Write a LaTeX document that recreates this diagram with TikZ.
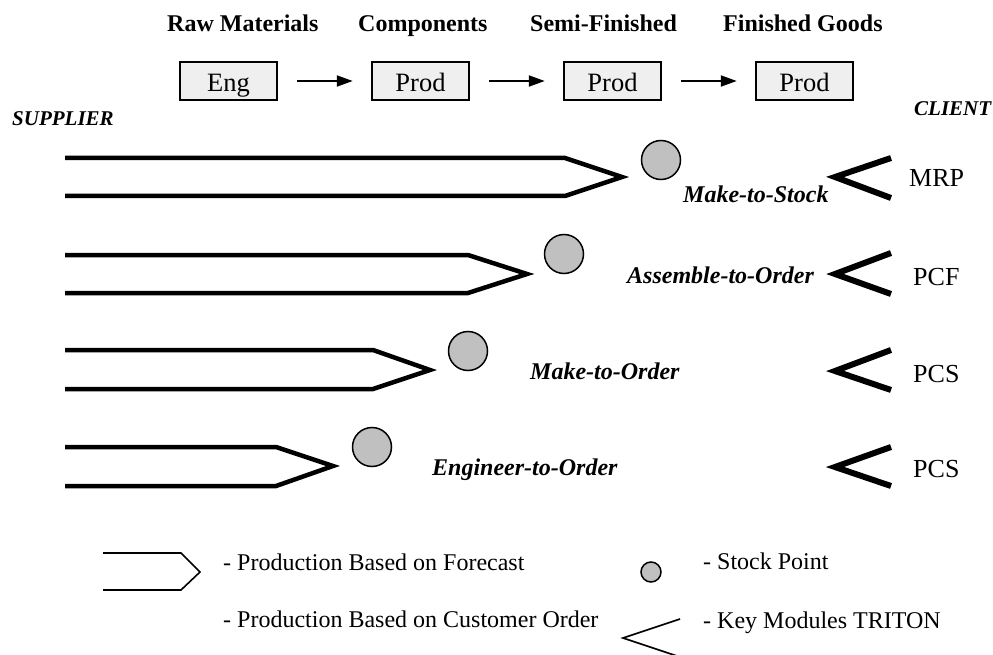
\documentclass[tikz,border=0pt]{standalone}
\usepackage{fontspec}
\setmainfont{Liberation Serif}
\usetikzlibrary{arrows.meta}
\definecolor{boxfill}{HTML}{EFEFEF}
\definecolor{stockfill}{HTML}{C0C0C0}
\tikzset{
  stage/.style={draw=black, line width=2.5pt, fill=boxfill, minimum width=97pt, minimum height=38pt, inner sep=0pt, text height=22pt, text depth=0pt, font=\fontsize{26.5}{28}\selectfont},
  flowarrow/.style={line width=2pt, -{Triangle[length=16pt,width=11pt]}, shorten <=19pt, shorten >=18pt},
  headlabel/.style={anchor=base west, inner sep=0pt, font=\fontsize{24}{26}\selectfont\bfseries},
  sidelabel/.style={anchor=base west, inner sep=0pt, font=\fontsize{21}{23}\selectfont\bfseries\itshape},
  modelabel/.style={anchor=base west, inner sep=0pt, font=\fontsize{24}{26}\selectfont\bfseries\itshape},
  modulelabel/.style={anchor=base west, inner sep=0pt, font=\fontsize{26}{28}\selectfont},
  legendlabel/.style={anchor=base west, inner sep=0pt, font=\fontsize{24}{26}\selectfont},
  forecast/.style={line width=4.5pt, line join=miter},
  keymodule/.style={line width=6pt, line join=miter},
  stockpoint/.style={circle, draw=black, line width=1.5pt, fill=stockfill, minimum size=39pt, inner sep=0pt},
}
\begin{document}
\begin{tikzpicture}[x=1pt,y=-1pt]
\useasboundingbox (0,0) rectangle (993,655);
\clip (0,0) rectangle (993,655);

% stage headings
\node[headlabel] (hraw)  at (167,32) {Raw Materials};
\node[headlabel] (hcomp) at (358,32) {Components};
\node[headlabel] (hsemi) at (530,32) {Semi-Finished};
\node[headlabel] (hfin)  at (723,32) {Finished Goods};

% stage boxes and flow
\node[stage] (b1) at (228.5,81) {Eng};
\node[stage] (b2) at (420.5,81) {Prod};
\node[stage] (b3) at (612.5,81) {Prod};
\node[stage] (b4) at (804.5,81) {Prod};
\draw[flowarrow] (b1) -- (b2);
\draw[flowarrow] (b2) -- (b3);
\draw[flowarrow] (b3) -- (b4);

% ends of the chain
\node[sidelabel] (supplier) at (12,126) {SUPPLIER};
\node[sidelabel] (client) at (914,116) {CLIENT};

% Make-to-Stock
\draw[forecast] (65,158) -- (565,158) -- (622,177) -- (565,196) -- (65,196);
\node[stockpoint] (s1) at (661,160) {};
\node[modelabel] (m1) at (683,203) {Make-to-Stock};
\draw[keymodule] (891,158) -- (835,177) -- (891,198);
\node[modulelabel] (k1) at (909,187) {MRP};

% Assemble-to-Order
\draw[forecast] (65,255) -- (468,255) -- (527,274) -- (468,293) -- (65,293);
\node[stockpoint] (s2) at (564,254) {};
\node[modelabel] (m2) at (627,283) {Assemble-to-Order};
\draw[keymodule] (891,253) -- (835,274) -- (891,294);
\node[modulelabel] (k2) at (913,285) {PCF};

% Make-to-Order
\draw[forecast] (65,350) -- (373,350) -- (430,370) -- (373,389) -- (65,389);
\node[stockpoint] (s3) at (468,351) {};
\node[modelabel] (m3) at (530,379) {Make-to-Order};
\draw[keymodule] (891,350) -- (835,371) -- (891,390);
\node[modulelabel] (k3) at (913,382) {PCS};

% Engineer-to-Order
\draw[forecast] (65,447) -- (276,447) -- (333,466) -- (276,486) -- (65,486);
\node[stockpoint] (s4) at (372,447) {};
\node[modelabel] (m4) at (432,475) {Engineer-to-Order};
\draw[keymodule] (891,447) -- (835,467) -- (891,486);
\node[modulelabel] (k4) at (913,477) {PCS};

% legend
\draw[line width=1.6pt, line join=miter] (103,553) -- (181,553) -- (200,572) -- (181,590) -- (103,590);
\node[legendlabel] (lf) at (223,570) {- Production Based on Forecast};
\node[legendlabel] (lc) at (223,627) {- Production Based on Customer Order};
\node[stockpoint, minimum size=20pt] (ls) at (651,572) {};
\node[legendlabel] (lsp) at (703,569) {- Stock Point};
\draw[line width=1.6pt, line join=miter] (680,619) -- (623,638) -- (680,657);
\node[legendlabel] (lk) at (703,628) {- Key Modules TRITON};
\end{tikzpicture}
\end{document}
